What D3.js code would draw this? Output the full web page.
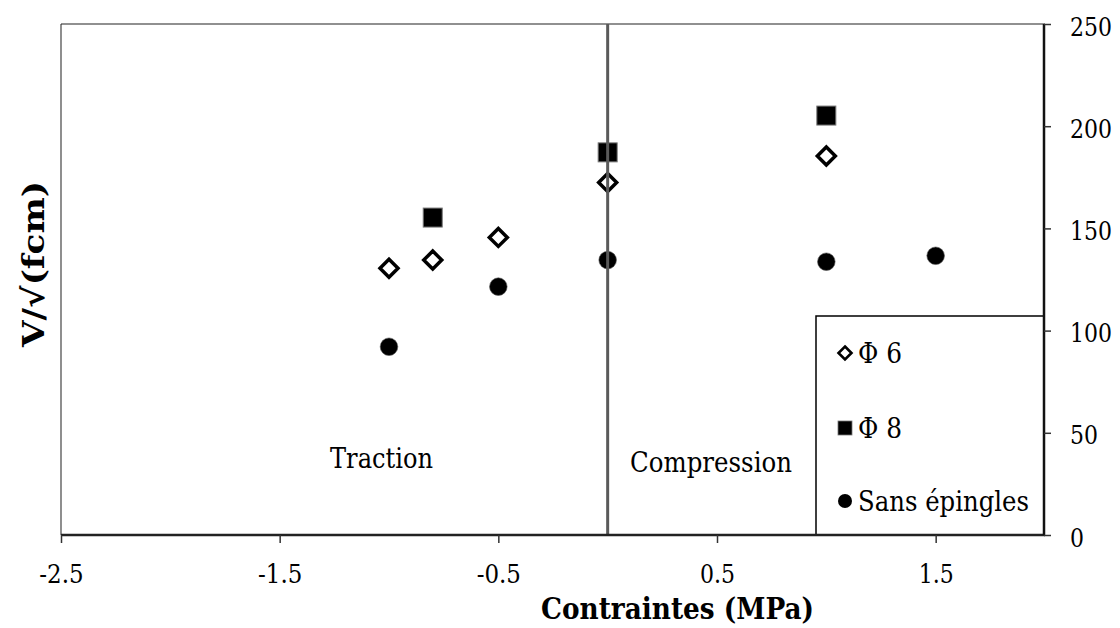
<!DOCTYPE html>
<html>
<head>
<meta charset="utf-8">
<script src="https://cdn.jsdelivr.net/npm/d3@7"></script>
<style>
  html, body { margin: 0; padding: 0; background: #fff; }
  svg { display: block; }
  text { font-family: "DejaVu Serif", "Liberation Serif", serif; fill: #000; }
</style>
</head>
<body>
<svg id="chart" width="1120" height="628"></svg>
<script>
// ---- data ----
const phi6X = [-1.0, -0.8, -0.5, 0.0, 1.0];
const phi6Y = [130.5, 134.5, 145.6, 172.5, 185.4];
const phi8X = [-0.8, 0.0, 1.0];
const phi8Y = [155.3, 187.2, 205.2];
const sansX = [-1.0, -0.5, 0.0, 1.0, 1.5];
const sansY = [92.1, 121.5, 134.5, 133.7, 136.6];
const xTicks = [-2.5, -1.5, -0.5, 0.5, 1.5];
const yTicks = [0, 50, 100, 150, 200, 250];
const xDomain = [-2.5, 2.0];
const yDomain = [0, 250];
const legendLabels = ["\u03A6 6", "\u03A6 8", "Sans \u00E9pingles"];
const regionLabels = ["Traction", "Compression"];
const xTitle = "Contraintes (MPa)";
const yTitle = "V/\u221A(fcm)";

// ---- layout ----
const svg = d3.select("#chart");
const L = 61, R = 1045, T = 24, B = 535;
const x = d3.scaleLinear().domain(xDomain).range([L, R]);
const y = d3.scaleLinear().domain(yDomain).range([B, T]);

// Times-like width of numeric labels (em units), used to keep widths close to the original
const numWidth = (s, fs) => d3.sum(s.split(""), c => c === "." ? 0.25 : (c === "-" ? 0.333 : 0.5)) * fs;

// plot frame (thin left / top)
svg.append("line").attr("x1", L).attr("x2", L).attr("y1", T).attr("y2", B)
  .attr("stroke", "#444").attr("stroke-width", 1.2);
svg.append("line").attr("x1", L).attr("x2", R).attr("y1", T).attr("y2", T)
  .attr("stroke", "#222").attr("stroke-width", 1.2);

// markers
const diamond = (s) => `M0,${-s}L${s},0L0,${s}L${-s},0Z`;

const gPts = svg.append("g");
gPts.selectAll("circle.sans").data(sansX.map((v, i) => [v, sansY[i]])).enter()
  .append("circle").attr("class", "sans")
  .attr("cx", d => x(d[0])).attr("cy", d => y(d[1])).attr("r", 8.8)
  .attr("fill", "#000").attr("stroke", "#555").attr("stroke-width", 0.6);
gPts.selectAll("rect.phi8").data(phi8X.map((v, i) => [v, phi8Y[i]])).enter()
  .append("rect").attr("class", "phi8")
  .attr("x", d => x(d[0]) - 9.5).attr("y", d => y(d[1]) - 9.5)
  .attr("width", 19).attr("height", 19)
  .attr("fill", "#000").attr("stroke", "#777").attr("stroke-width", 1);
gPts.selectAll("path.phi6").data(phi6X.map((v, i) => [v, phi6Y[i]])).enter()
  .append("path").attr("class", "phi6")
  .attr("transform", d => `translate(${x(d[0])},${y(d[1])})`)
  .attr("d", diamond(9)).attr("fill", "#fff").attr("stroke", "#000").attr("stroke-width", 3.5)
  .attr("stroke-linejoin", "miter");

// zero line
svg.append("line").attr("x1", x(0)).attr("x2", x(0)).attr("y1", T).attr("y2", B)
  .attr("stroke", "#5a5a5a").attr("stroke-width", 3);

// region labels
svg.append("text").attr("x", 330).attr("y", 468).attr("font-size", 27)
  .attr("textLength", 103).attr("lengthAdjust", "spacingAndGlyphs").text(regionLabels[0]);
svg.append("text").attr("x", 630).attr("y", 472).attr("font-size", 27)
  .attr("textLength", 162).attr("lengthAdjust", "spacingAndGlyphs").text(regionLabels[1]);

// legend
const lg = svg.append("g");
lg.append("rect").attr("x", 816).attr("y", 316).attr("width", 228).attr("height", 219)
  .attr("fill", "#fff").attr("stroke", "#000").attr("stroke-width", 1.5);
const legY = [353, 428, 501];
const legW = [44, 44, 171];
const legMx = 845;
lg.append("path").attr("transform", `translate(${legMx},${legY[0]})`).attr("d", diamond(6.5))
  .attr("fill", "#fff").attr("stroke", "#000").attr("stroke-width", 2.6);
lg.append("rect").attr("x", legMx - 7).attr("y", legY[1] - 7).attr("width", 14).attr("height", 14)
  .attr("fill", "#000").attr("stroke", "#777").attr("stroke-width", 0.8);
lg.append("circle").attr("cx", legMx).attr("cy", legY[2]).attr("r", 7).attr("fill", "#000");
legendLabels.forEach((t, i) => {
  lg.append("text").attr("x", 858).attr("y", legY[i] + 10).attr("font-size", 27)
    .attr("textLength", legW[i]).attr("lengthAdjust", "spacingAndGlyphs").text(t);
});

// bottom axis
const fmt = d => d3.format(".1f")(d).replace("\u2212", "-");
const xAxis = d3.axisBottom(x).tickValues(xTicks).tickSize(8).tickFormat(fmt);
const gx = svg.append("g").attr("transform", `translate(0,${B})`).call(xAxis);
gx.attr("font-family", null);
gx.select(".domain").attr("stroke", "#222").attr("stroke-width", 2.5).attr("d", `M${L},0H${R}`);
gx.selectAll(".tick line").attr("stroke", "#333").attr("stroke-width", 1.5);
gx.selectAll(".tick text").attr("font-size", 26).attr("fill", "#000")
  .attr("y", 48).attr("dy", 0)
  .attr("textLength", d => numWidth(fmt(d), 28)).attr("lengthAdjust", "spacingAndGlyphs");

// right axis
const yAxis = d3.axisRight(y).tickValues(yTicks).tickSize(7).tickPadding(18);
const gy = svg.append("g").attr("transform", `translate(${R - 1},0)`).call(yAxis);
gy.attr("font-family", null);
gy.select(".domain").attr("stroke", "#111").attr("stroke-width", 2.5).attr("d", `M0,${T}V${B}`);
gy.selectAll(".tick line").attr("stroke", "#333").attr("stroke-width", 1.5);
gy.selectAll(".tick text").attr("font-size", 26).attr("fill", "#000")
  .attr("x", 26).attr("dy", 0).attr("y", 11)
  .attr("textLength", d => numWidth(String(d), 28)).attr("lengthAdjust", "spacingAndGlyphs");

// axis titles
svg.append("text").attr("x", 541).attr("y", 619).attr("font-size", 29).attr("font-weight", "bold")
  .attr("textLength", 273).attr("lengthAdjust", "spacingAndGlyphs").text(xTitle);
svg.append("text").attr("transform", "translate(44,264) rotate(-90)").attr("text-anchor", "middle")
  .attr("font-size", 30).attr("font-weight", "bold")
  .attr("textLength", 166).attr("lengthAdjust", "spacingAndGlyphs").text(yTitle);
</script>
</body>
</html>
